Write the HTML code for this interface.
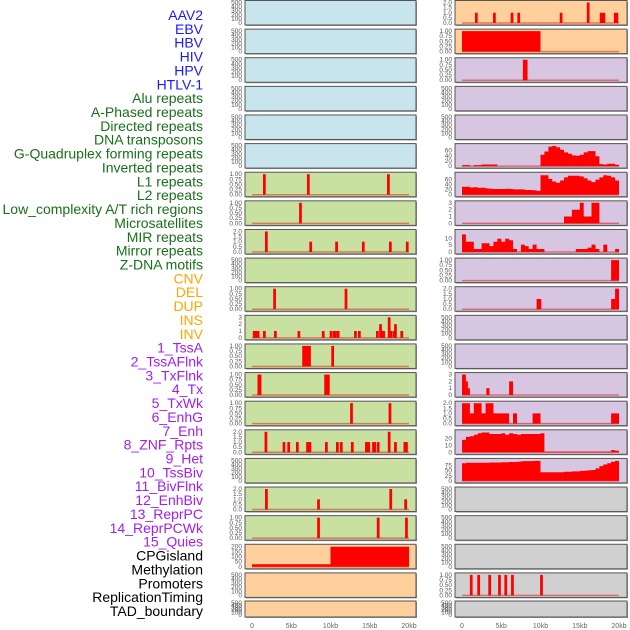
<!DOCTYPE html>
<html><head><meta charset="utf-8"><style>
html,body{margin:0;padding:0;background:#fff;}
svg{display:block;font-family:"Liberation Sans",sans-serif;}
</style></head><body>
<svg id="chart" width="630" height="630" viewBox="0 0 630 630" xmlns="http://www.w3.org/2000/svg"></svg>
<script>
// ---- row labels ----
const labelNames = ["AAV2","EBV","HBV","HIV","HPV","HTLV-1","Alu repeats","A-Phased repeats","Directed repeats","DNA transposons","G-Quadruplex forming repeats","Inverted repeats","L1 repeats","L2 repeats","Low_complexity A/T rich regions","Microsatellites","MIR repeats","Mirror repeats","Z-DNA motifs","CNV","DEL","DUP","INS","INV","1_TssA","2_TssAFlnk","3_TxFlnk","4_Tx","5_TxWk","6_EnhG","7_Enh","8_ZNF_Rpts","9_Het","10_TssBiv","11_BivFlnk","12_EnhBiv","13_ReprPC","14_ReprPCWk","15_Quies","CPGisland","Methylation","Promoters","ReplicationTiming","TAD_boundary"];
const labelGroups = [0,0,0,0,0,0,1,1,1,1,1,1,1,1,1,1,1,1,1,2,2,2,2,2,3,3,3,3,3,3,3,3,3,3,3,3,3,3,3,4,4,4,4,4];
const groupColors = ["#1a1aff","#187018","#ffa500","#a020f0","#000000"];

// ---- x axis ----
const xTickLabels = ["0","5kb","10kb","15kb","20kb"];
const xTickValues = [0,5,10,15,20];

// ---- tick label sets ----
const ticksEmpty = ["0","100","200","300","400","500"];
const ticks1 = ["0.00","0.25","0.50","0.75","1.00"];
const ticks2 = ["0.0","0.5","1.0","1.5","2.0"];
const ticks3 = ["0","1","2","3"];

// ---- LEFT column data (kb positions, heights) ----
const L6_pos=[1.4,7.0,17.2], L6_val=[1,1,1];
const L7_pos=[6.0], L7_val=[1];
const L8_pos=[1.65,7.3,10.6,14.0,17.45,19.6], L8_val=[2,1,1,1,1,1];
const L10_pos=[2.7,11.8], L10_val=[1,1];
const L11_pos=[0.1,0.3,0.5,0.6,1.4,2.8,5.8,8.9,9.9,10.3,10.45,10.8,13.0,13.5,15.8,16.2,16.4,16.6,17.3,17.5,17.9,18.1,18.9];
const L11_val=[1,1,1,1,1,1,1,1,1,1,1,1,1,1,1,2,1,1,3,1,1,2,1];
const L12_pos=[6.4,10.1], L12_val=[1,1], L12_w=[1.1,0.35];
const L13_pos=[0.7,9.2], L13_val=[1,1], L13_w=[0.5,0.7];
const L14_pos=[12.5,17.4], L14_val=[1,1];
const L15_pos=[1.6,3.9,4.5,5.6,6.9,7.2,9.3,10.7,11.2,12.6,14.4,14.7,15.3,15.45,15.9,17.3,18.1,19.3,19.5];
const L15_val=[2,1,1,1,1,1,1,1,1,1,1,1,1,1,1,2,1,1,1];
const L17_pos=[1.66,8.3,17.5,19.4], L17_val=[2,1,2,1];
const L18_pos=[8.3,15.9,19.5], L18_val=[1,1,1];
const L19_bins=[25,25,25,25,25,25,25,25,25,25,25,25,25,25,25,25,25,25,25,25,195,195,195,195,195,195,195,195,195,195,195,195,195,195,195,195,195,195,195,195];

// ---- RIGHT column data ----
const R0_pos=[1.65,3.95,6.2,7.05,12.45,15.9,17.55,17.9,19.35,19.55], R0_val=[1,1,1,1,1,2,1,1,1,1];
const R1_bins=[1,1,1,1,1,1,1,1,1,1,1,1,1,1,1,1,1,1,1,1];
const R2_pos=[7.75], R2_val=[1], R2_w=[0.6];
const R5_bins=[3,3,0,3,3,5,5,5,5,0,0,0,0,0,0,0,0,0,0,0,35,45,60,62,58,50,42,38,33,32,35,42,46,46,30,6,5,7,7,4];
const R6_bins=[25,25,23,24,22,22,20,19,18,18,18,19,18,17,17,17,15,15,14,12,62,62,50,42,38,45,55,60,60,60,58,52,45,40,48,55,62,60,55,45];
const R7_bins=[0,0,0,0,0,0,0,0,0,0,0,0,0,0,0,0,0,0,0,0,0,0,0,0,0,0,1,1,2,2,3,1,1,3,3,0,0,0,0,0];
const R8_bins=[12,7,7,2,2,6,6,4,7,9,7,9,8,2,0,5,4,2,5,2,2,0,0,0,0,0,0,0,0,2,2,2,3,5,2,0,5,0,0,2];
const R9_bins=[0,0,0,0,0,0,0,0,0,0,0,0,0,0,0,0,0,0,0,0,0,0,0,0,0,0,0,0,0,0,0,0,0,0,0,0,0,0,1,1];
const R10_pos=[9.5,19.0,19.5], R10_val=[1,1,2], R10_w=[0.6,0.5,0.5];
const R13_pos=[0.0,0.5,0.75,3.1,6.0], R13_val=[3,2,1,1,2], R13_w=[0.5,0.25,0.2,0.4,0.5];
const R14_bins=[2,2,1,2,2,1,2,2,1,1,1,1,0,1,0,0,0,0,1,1,0,0,0,0,0,0,0,0,0,0,0,0,0,0,0,0,0,0,1,1];
const R15_bins=[17,21,22,24,26,27,27,25,25,25,26,24,26,25,24,25,25,25,25,25,26,1,1,1,1,1,1,1,1,1,1,1,1,1,1,1,1,1,3,2];
const R16_bins=[78,80,80,80,80,80,80,81,81,81,82,82,83,83,84,86,87,87,88,88,38,38,38,38,38,38,40,40,42,42,44,45,47,48,55,65,72,78,84,88];
const R19_pos=[1.0,1.95,3.35,4.6,5.4,6.25,9.95], R19_val=[1,1,1,1,1,1,1];

const svg=document.getElementById('chart');
const NS="http://www.w3.org/2000/svg";
function mk(tag,attrs,parent){const e=document.createElementNS(NS,tag);for(const k in attrs)e.setAttribute(k,attrs[k]);(parent||svg).appendChild(e);return e;}

labelNames.forEach((t,i)=>{
  const e=mk('text',{x:203,y:(15+i*13.86+5).toFixed(1),'text-anchor':'end','font-size':14,fill:groupColors[labelGroups[i]]});
  e.textContent=t;
  
  
});

const COLS=[{px:245,pw:171,x0:252},{px:455,pw:172,x0:462}];
const KB=157/20;
function rowTop(i){return i===21?601:0.5+i*28.62;}
function rowH(i){return i===21?16:24.5;}
function xs(col,kb){return COLS[col].x0+kb*KB;}

function panel(col,row,bg,ymax,ticks,name){
  const c=COLS[col],top=rowTop(row),h=rowH(row);
  const g=mk('g',{});
  
  
  mk('rect',{x:c.px+1,y:top+1,width:c.pw,height:h,fill:'#999'},g);
  const r=mk('rect',{x:c.px,y:top,width:c.pw,height:h,fill:bg,stroke:'#555','stroke-width':1},g);
  
  
  const bot=top+h-2, ph=h-4;
  const ys=v=>bot-v/ymax*ph;
  ticks.forEach((t,k)=>{
    const v=ymax*k/(ticks.length-1);
    const e=mk('text',{x:c.px-3,y:(ys(v)+2).toFixed(1),'text-anchor':'end','font-size':6.5,fill:'#555'},g);
    e.textContent=t;
    
    
  });
  return {g,ys,bot,col};
}
function baseline(p){
  const l=mk('line',{x1:xs(p.col,0),x2:xs(p.col,20),y1:p.bot,y2:p.bot,stroke:'rgba(220,0,0,0.45)','stroke-width':1.5},p.g);
  
  
}
function bars(p,pos,val,w){
  baseline(p);
  pos.forEach((k,i)=>{
    const wid=(w?w[i]:0.35)*KB, y=p.ys(val[i]);
    const b=mk('rect',{x:xs(p.col,k),y:y,width:Math.max(wid,2),height:p.bot-y,fill:'#ff0000'},p.g);
    
    
  });
}
function area(p,bins){
  baseline(p);
  let d='M'+xs(p.col,0)+','+p.bot;
  bins.forEach((v,i)=>{d+=' L'+xs(p.col,i*0.5).toFixed(1)+','+p.ys(v).toFixed(1)+' L'+xs(p.col,(i+1)*0.5).toFixed(1)+','+p.ys(v).toFixed(1);});
  d+=' L'+xs(p.col,bins.length*0.5).toFixed(1)+','+p.bot+' Z';
  const a=mk('path',{d:d,fill:'#ff0000'},p.g);
  
  
}

const BLUE='#c8e4ec',GREEN='#c8e0a0',ORANGE='#ffd09c',PURPLE='#d6c6e2',GRAY='#d0d0d0';
for(const r of [0,1,2,3,4,5]) panel(0,r,BLUE,500,ticksEmpty,'left-panel-'+r);
bars(panel(0,6,GREEN,1,ticks1,'left-panel-6'),L6_pos,L6_val);
bars(panel(0,7,GREEN,1,ticks1,'left-panel-7'),L7_pos,L7_val);
bars(panel(0,8,GREEN,2,ticks2,'left-panel-8'),L8_pos,L8_val);
panel(0,9,GREEN,500,ticksEmpty,'left-panel-9');
bars(panel(0,10,GREEN,1,ticks1,'left-panel-10'),L10_pos,L10_val);
bars(panel(0,11,GREEN,3,ticks3,'left-panel-11'),L11_pos,L11_val);
bars(panel(0,12,GREEN,1,ticks1,'left-panel-12'),L12_pos,L12_val,L12_w);
bars(panel(0,13,GREEN,1,ticks1,'left-panel-13'),L13_pos,L13_val,L13_w);
bars(panel(0,14,GREEN,1,ticks1,'left-panel-14'),L14_pos,L14_val);
bars(panel(0,15,GREEN,2,ticks2,'left-panel-15'),L15_pos,L15_val);
panel(0,16,GREEN,500,ticksEmpty,'left-panel-16');
bars(panel(0,17,GREEN,2,ticks2,'left-panel-17'),L17_pos,L17_val);
bars(panel(0,18,GREEN,1,ticks1,'left-panel-18'),L18_pos,L18_val);
area(panel(0,19,ORANGE,200,["0","50","100","150","200"],'left-panel-19'),L19_bins);
panel(0,20,ORANGE,500,ticksEmpty,'left-panel-20');
panel(0,21,ORANGE,500,ticksEmpty,'left-panel-21');
bars(panel(1,0,ORANGE,2,ticks2,'right-panel-0'),R0_pos,R0_val);
area(panel(1,1,ORANGE,1,ticks1,'right-panel-1'),R1_bins);
bars(panel(1,2,PURPLE,1,ticks1,'right-panel-2'),R2_pos,R2_val,R2_w);
panel(1,3,PURPLE,500,ticksEmpty,'right-panel-3');
panel(1,4,PURPLE,500,ticksEmpty,'right-panel-4');
area(panel(1,5,PURPLE,63,["0","20","40","60",""],'right-panel-5'),R5_bins);
area(panel(1,6,PURPLE,65,["0","20","40","60",""],'right-panel-6'),R6_bins);
area(panel(1,7,PURPLE,3,ticks3,'right-panel-7'),R7_bins);
area(panel(1,8,PURPLE,14,["0","5","10",""],'right-panel-8'),R8_bins);
area(panel(1,9,PURPLE,1,ticks1,'right-panel-9'),R9_bins);
bars(panel(1,10,PURPLE,2,ticks2,'right-panel-10'),R10_pos,R10_val,R10_w);
panel(1,11,PURPLE,500,ticksEmpty,'right-panel-11');
panel(1,12,PURPLE,500,ticksEmpty,'right-panel-12');
bars(panel(1,13,PURPLE,3,ticks3,'right-panel-13'),R13_pos,R13_val,R13_w);
area(panel(1,14,PURPLE,2,ticks2,'right-panel-14'),R14_bins);
area(panel(1,15,PURPLE,28,["0","10","20",""],'right-panel-15'),R15_bins);
area(panel(1,16,PURPLE,90,["0","25","50","75",""],'right-panel-16'),R16_bins);
panel(1,17,GRAY,500,ticksEmpty,'right-panel-17');
panel(1,18,GRAY,500,ticksEmpty,'right-panel-18');
panel(1,19,GRAY,500,ticksEmpty,'right-panel-19');
bars(panel(1,20,GRAY,1,ticks1,'right-panel-20'),R19_pos,R19_val);
panel(1,21,GRAY,500,ticksEmpty,'right-panel-21');

[0,1].forEach(col=>{
  xTickValues.forEach((v,i)=>{
    const e=mk('text',{x:xs(col,v),y:628,'text-anchor':'middle','font-size':7,fill:'#666'});
    e.textContent=xTickLabels[i];
    
    
  });
});
</script>
</body></html>
